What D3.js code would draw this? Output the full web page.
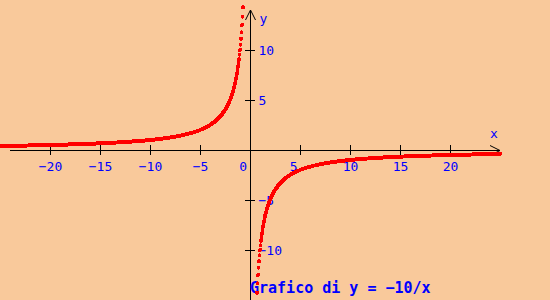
<!DOCTYPE html>
<html>
<head>
<meta charset="utf-8">
<script src="https://cdn.jsdelivr.net/npm/d3@7"></script>
<style>
  body { margin: 0; background: #f9c99b; }
  svg { display: block; }
</style>
</head>
<body>
<script>

// plotted function y = k / x, sampled every xStep
var coefficient = -10;
var xStep = 0.05;
var xDomain = [-25, 25];
var yDomain = [-15, 15];

// axes
var xAxisExtent = [-24, 25];
var yAxisExtent = [-15, 14];
var xTicks = [-20, -15, -10, -5, 5, 10, 15, 20];
var xTickLabels = ["−20", "−15", "−10", "−5", "5", "10", "15", "20"];
var yTicks = [10, 5, -5, -10];
var yTickLabels = ["10", "5", "−5", "−10"];
var originLabel = "0";
var title = "Grafico di y = −10/x";

function drawD3(){

	var w = 550;
	var h = 300;

	var svg = d3.select("body")
		.append("svg")
		.attr("width", w)
		.attr("height", h);

	svg.append("rect")
		.attr("width", w).attr("height", h)
		.attr("fill", "#f9c99b");

	var x = d3.scaleLinear().domain(xDomain).range([0, 500]);
	var y = d3.scaleLinear().domain([yDomain[1], yDomain[0]]).range([0, 300]);

	var font = "'DejaVu Sans Mono', monospace";
	var blue = "#0000ff";

	// X AXIS (ticks via d3 axis, line and arrow drawn by hand)

	var gx = svg.append("g")
		.attr("transform", "translate(0," + (y(0) - 5) + ")")
		.call(d3.axisBottom(x)
			.tickValues(xTicks)
			.tickSize(10)
			.tickPadding(7)
			.tickFormat(function(d, i) { return xTickLabels[i]; }));

	gx.select(".domain").remove();
	gx.selectAll(".tick line").attr("stroke", "black").attr("shape-rendering", "crispEdges");
	gx.selectAll(".tick text")
		.attr("fill", blue)
		.attr("font-family", font).attr("font-size", "13px")
		.attr("text-anchor", function(d) { return d == 5 ? "end" : "middle"; })
		.attr("x", function(d) { return d == 5 ? -3 : 0; });

	// Y AXIS

	var gy = svg.append("g")
		.attr("transform", "translate(" + (x(0) - 5) + ",0)")
		.call(d3.axisRight(y)
			.tickValues(yTicks)
			.tickSize(10)
			.tickPadding(3.5)
			.tickFormat(function(d, i) { return yTickLabels[i]; }));

	gy.select(".domain").remove();
	gy.selectAll(".tick line").attr("stroke", "black").attr("shape-rendering", "crispEdges");
	gy.selectAll(".tick text")
		.attr("fill", blue)
		.attr("font-family", font).attr("font-size", "13px");

	// axis lines + arrows

	svg.append("line")
		.attr("x1", x(xAxisExtent[0])).attr("x2", x(xAxisExtent[1]))
		.attr("y1", y(0) + 0.5).attr("y2", y(0) + 0.5)
		.attr("stroke", "black");

	svg.append("line")
		.attr("x1", x(0) + 0.5).attr("x2", x(0) + 0.5)
		.attr("y1", y(yAxisExtent[1])).attr("y2", y(yAxisExtent[0]))
		.attr("stroke", "black");

	var xe = x(xAxisExtent[1]), ye = y(yAxisExtent[1]);
	svg.append("path")
		.attr("d", "M" + (xe - 10) + "," + (y(0) - 4.5) + "L" + xe + "," + (y(0) + 0.5) + "L" + (xe - 10) + "," + (y(0) + 5.5))
		.attr("fill", "none").attr("stroke", "black");
	svg.append("path")
		.attr("d", "M" + (x(0) - 4.5) + "," + (ye + 10) + "L" + (x(0) + 0.5) + "," + ye + "L" + (x(0) + 5.5) + "," + (ye + 10))
		.attr("fill", "none").attr("stroke", "black");

	// axis names, origin label, title

	svg.append("text").text("x")
		.attr("x", 490).attr("y", 137.5)
		.attr("font-family", font).attr("font-size", "13px").attr("fill", blue);

	svg.append("text").text("y")
		.attr("x", 259.5).attr("y", 22.5)
		.attr("font-family", font).attr("font-size", "13px").attr("fill", blue);

	svg.append("text").text(originLabel)
		.attr("x", x(0) - 3).attr("y", 171)
		.attr("text-anchor", "end")
		.attr("font-family", font).attr("font-size", "13px").attr("fill", blue);

	svg.append("text").text(title)
		.attr("x", x(0)).attr("y", 293)
		.attr("font-family", font).attr("font-size", "15px").attr("font-weight", "bold")
		.attr("fill", blue);

	// CURVE (dots)

	var n = Math.round((xDomain[1] - xDomain[0]) / xStep);
	var points = d3.range(n + 1)
		.map(function(i) { return xDomain[0] + i * xStep; })
		.filter(function(v) { return Math.abs(v) > 1e-9; })
		.map(function(v) { return { x: v, y: coefficient / v }; })
		.filter(function(d) { return d.y >= yDomain[0] - 1 && d.y <= yDomain[1] + 1; });

	svg.append("g")
		.selectAll("circle")
		.data(points)
		.enter()
		.append("circle")
		.attr("cx", function(d) { return x(d.x); })
		.attr("cy", function(d) { return y(d.y); })
		.attr("r", 2)
		.attr("fill", "red")
		.attr("shape-rendering", "crispEdges");
}

drawD3();
</script>
</body>
</html>
